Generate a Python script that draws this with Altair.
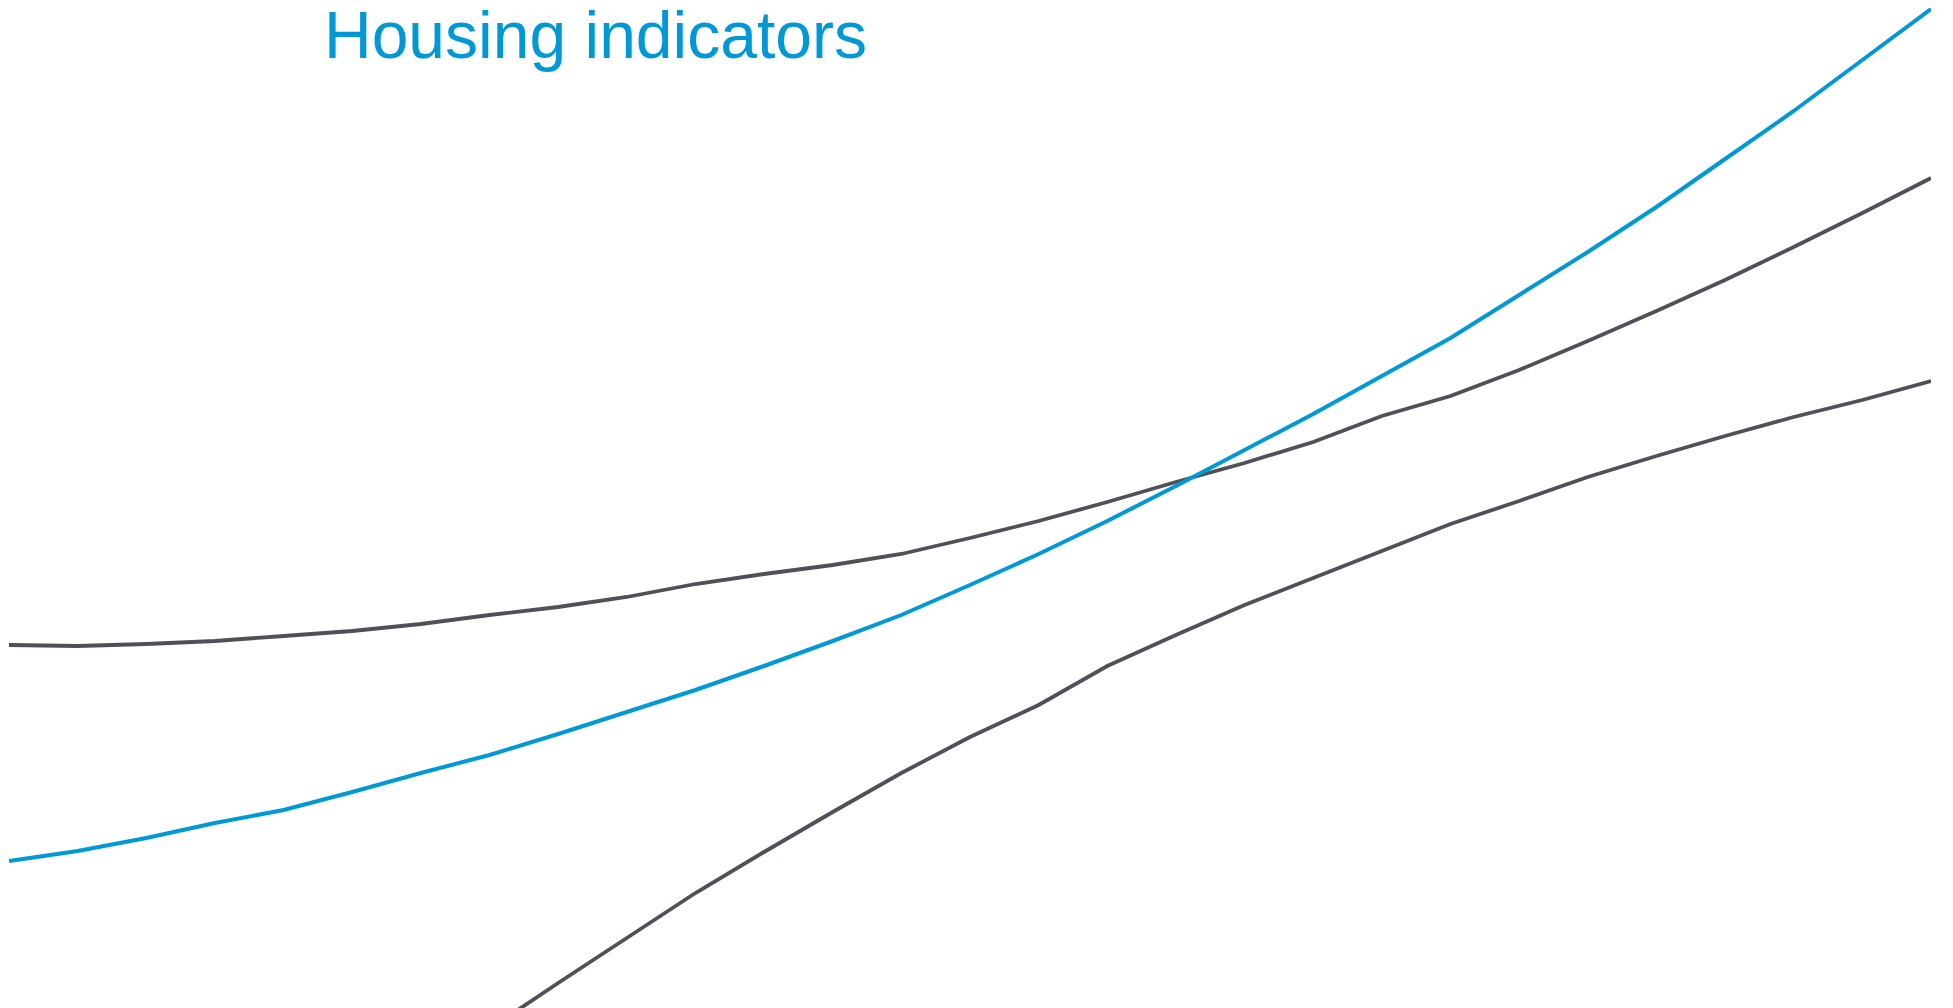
import altair as alt
import pandas as pd

# x positions (periods) and series values
periods = list(range(29))
blue_series = [14.7, 15.7, 17.0, 18.5, 19.8, 21.6, 23.5, 25.3, 27.4, 29.6,
               31.8, 34.2, 36.7, 39.3, 42.3, 45.4, 48.7, 52.2, 55.8, 59.4,
               63.2, 67.0, 71.3, 75.6, 80.1, 84.9, 89.7, 94.8, 99.9]
grey_upper = [36.3, 36.2, 36.4, 36.7, 37.2, 37.7, 38.4, 39.3, 40.1, 41.1,
              42.4, 43.4, 44.3, 45.4, 47.0, 48.7, 50.6, 52.6, 54.5, 56.6,
              59.2, 61.2, 63.8, 66.7, 69.7, 72.8, 76.1, 79.5, 83.0]
grey_lower_periods = list(range(7, 29))
grey_lower = [-2.1, 2.5, 7.0, 11.5, 15.6, 19.6, 23.5, 27.1, 30.3, 34.2, 37.3,
              40.3, 43.0, 45.7, 48.4, 50.7, 53.1, 55.2, 57.2, 59.1, 60.8, 62.7]

series_names = ["Blue", "Upper", "Lower"]
series_colors = ["#0099d6", "#505058", "#505058"]
title_text = "Housing indicators"

rows = []
for p, v in zip(periods, blue_series):
    rows.append({"period": p, "value": v, "series": "Blue"})
for p, v in zip(periods, grey_upper):
    rows.append({"period": p, "value": v, "series": "Upper"})
for p, v in zip(grey_lower_periods, grey_lower):
    rows.append({"period": p, "value": v, "series": "Lower"})
df = pd.DataFrame(rows)

x_enc = alt.X("period:Q", scale=alt.Scale(domain=[0, 28], nice=False, zero=False), axis=None)
y_enc = alt.Y("value:Q", scale=alt.Scale(domain=[0, 100], nice=False, zero=False), axis=None)
color_enc = alt.Color("series:N",
                      scale=alt.Scale(domain=series_names, range=series_colors),
                      legend=None)

greys = alt.Chart(df).transform_filter(alt.datum.series != "Blue").mark_line(
    strokeWidth=3.8, clip=True
).encode(x=x_enc, y=y_enc, color=color_enc, detail="series:N")

blue = alt.Chart(df).transform_filter(alt.datum.series == "Blue").mark_line(
    strokeWidth=4, clip=True
).encode(x=x_enc, y=y_enc, color=color_enc)

title = alt.Chart(pd.DataFrame({"t": [title_text]})).mark_text(
    align="left", baseline="alphabetic", fontSize=66,
    font="Liberation Sans", color="#0099d6"
).encode(x=alt.value(315), y=alt.value(50), text="t:N")

chart = alt.layer(greys, blue, title).properties(
    width=1922, height=1000,
    autosize=alt.AutoSizeParams(type="none"),
    padding={"left": 1, "top": 0, "right": 0, "bottom": 0},
    background="white",
).configure_view(strokeWidth=0, stroke=None)

chart.save("out.html", embed_options={"renderer": "svg", "actions": False})
